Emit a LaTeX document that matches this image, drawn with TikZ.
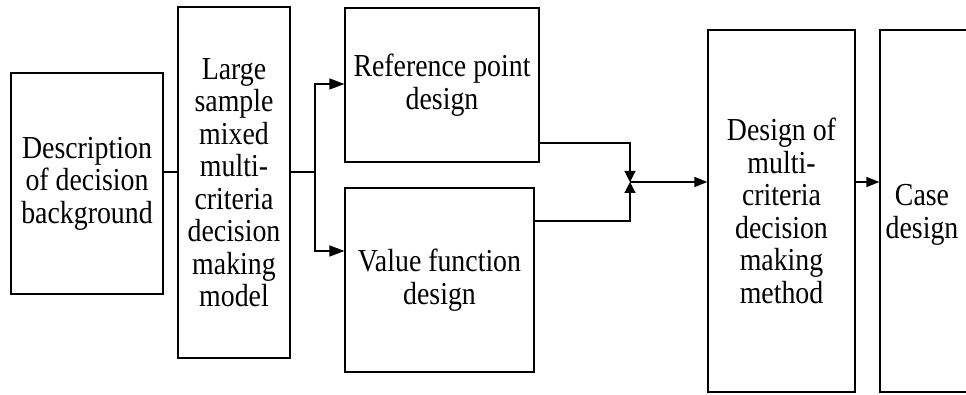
\documentclass[tikz,border=0pt]{standalone}
\usepackage{fontspec}
\setmainfont[FakeStretch=0.87]{Liberation Serif}
\usetikzlibrary{arrows.meta}
\begin{document}
\begin{tikzpicture}[x=1pt,y=-1pt,
  boxnode/.style={draw,line width=1.2pt,inner sep=0pt,align=center,
    font=\fontsize{32}{32.5}\selectfont},
  conn/.style={line width=1.2pt},
  arr/.style={conn,-{Triangle[length=13pt,width=10pt]}}]
\useasboundingbox (0,0) rectangle (966,395);
\clip (0,0) rectangle (966,395);
\node[boxnode,minimum width=152pt,minimum height=221pt] (b1) at (87,183.5)
  {Description\\of decision\\background};
\node[boxnode,minimum width=112pt,minimum height=351pt] (b2) at (234,182.5)
  {Large\\sample\\mixed\\multi-\\criteria\\decision\\making\\model};
\node[boxnode,minimum width=194pt,minimum height=154pt] (b3) at (442,85)
  {Reference point\\design};
\node[boxnode,minimum width=189pt,minimum height=184pt] (b4) at (439.5,280)
  {Value function\\design};
\node[boxnode,minimum width=147pt,minimum height=362pt] (b5) at (781.5,211)
  {Design of\\multi-\\criteria\\decision\\making\\method};
\node[boxnode,minimum width=90pt,minimum height=362pt] (b6) at (925,211) {};
\node[inner sep=0pt,align=center,font=\fontsize{32}{32.5}\selectfont] (t6) at (922,215)
  {Case\\design};
\coordinate (fork) at (315,172);
\coordinate (m) at (630,182);
\draw[conn] (b1.east |- 0,172) -- (b2.west |- 0,172);
\draw[conn] (b2.east |- fork) -- (fork);
\draw[arr,-{Triangle[length=15pt,width=11pt]}] (fork) |- (b3.west |- 0,84);
\draw[arr,-{Triangle[length=15pt,width=11pt]}] (fork) |- (b4.west |- 0,251);
\draw[arr,-{Triangle[length=11pt,width=11pt]}] (b3.east |- 0,143) -| (m);
\draw[arr,-{Triangle[length=11pt,width=11pt]}] (b4.east |- 0,221) -| (m);
\draw[arr] (m) -- (b5.west |- m);
\draw[arr] (b5.east |- 0,182) -- (b6.west |- 0,182);
\end{tikzpicture}
\end{document}
